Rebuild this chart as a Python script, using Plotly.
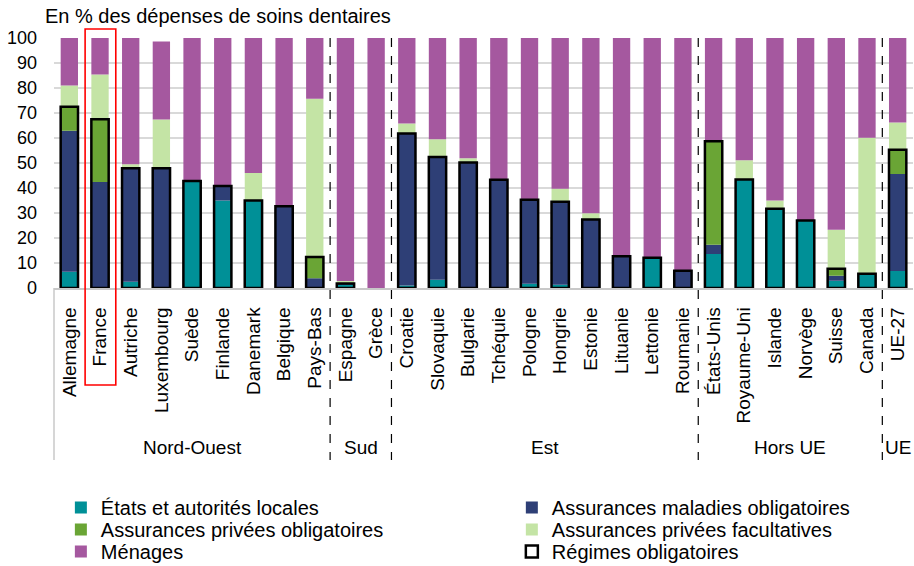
import plotly.graph_objects as go

# Pays et groupes
pays = [
    "Allemagne", "France", "Autriche", "Luxembourg", "Suède", "Finlande",
    "Danemark", "Belgique", "Pays-Bas",
    "Espagne", "Grèce",
    "Croatie", "Slovaquie", "Bulgarie", "Tchéquie", "Pologne", "Hongrie",
    "Estonie", "Lituanie", "Lettonie", "Roumanie",
    "États-Unis", "Royaume-Uni", "Islande", "Norvège", "Suisse", "Canada",
    "UE-27",
]
groupes = ["Nord-Ouest", "Sud", "Est", "Hors UE", "UE"]
taille_groupes = [9, 2, 10, 6, 1]

# Répartition des financements (en % des dépenses de soins dentaires)
etats = [6.5, 0, 2.5, 0, 42.8, 35.0, 35.0, 0, 0,
         1.2, 0,
         1.0, 3.3, 0, 0, 1.7, 1.3, 0, 0, 12.1, 0,
         13.6, 43.4, 31.7, 27.0, 2.9, 5.7,
         6.8]
maladie = [56.4, 42.4, 45.4, 47.9, 0, 5.8, 0, 32.7, 3.9,
           0.6, 0,
           60.8, 49.1, 50.2, 43.3, 33.6, 33.2, 27.4, 12.7, 0, 6.9,
           3.7, 0, 0, 0, 2.0, 0,
           38.8]
privees_oblig = [9.6, 25.1, 0, 0, 0, 0, 0, 0, 8.5,
                 0, 0,
                 0, 0, 0, 0, 0, 0, 0, 0, 0, 0,
                 41.4, 0, 0, 0, 2.8, 0,
                 9.7]
privees_fac = [8.5, 17.9, 1.6, 19.5, 0, 0, 11.0, 0, 63.3,
               1.0, 0,
               4.0, 7.1, 1.7, 0, 0, 5.2, 2.5, 0, 0, 0,
               0, 7.7, 3.3, 0, 15.6, 54.4,
               10.9]
menages = [19.0, 14.6, 50.5, 31.2, 57.2, 59.2, 54.0, 67.3, 24.3,
           97.2, 100.0,
           34.2, 40.5, 48.1, 56.7, 64.7, 60.3, 70.1, 87.3, 87.9, 93.1,
           41.3, 48.9, 65.0, 73.0, 76.7, 39.9,
           33.8]

series = [
    ("États et autorités locales", etats, "#009097"),
    ("Assurances maladies obligatoires", maladie, "#2E3F76"),
    ("Assurances privées obligatoires", privees_oblig, "#6AA535"),
    ("Assurances privées facultatives", privees_fac, "#C4E4A5"),
    ("Ménages", menages, "#A5589F"),
]

FONT = "Liberation Sans, Arial, sans-serif"
n = len(pays)
largeur = 0.565

# une légende par entrée : grille de 2 colonnes x 3 lignes sous le graphique
legendes = ["legend", "legend2", "legend3", "legend4", "legend5", "legend6"]
col_x = [0.008, 0.533]
ligne_y = [-0.8, -0.888, -0.976]

fig = go.Figure()
cumul = [0.0] * n
for k, (nom, vals, couleur) in enumerate(series):
    fig.add_trace(go.Bar(
        x=pays, y=vals, base=list(cumul), name=nom, width=largeur,
        marker=dict(color=couleur, line=dict(width=0)), legend=legendes[k],
    ))
    cumul = [c + v for c, v in zip(cumul, vals)]

# Contour des régimes obligatoires (États + assurances obligatoires)
regimes = [e + m + p for e, m, p in zip(etats, maladie, privees_oblig)]
fig.add_trace(go.Bar(
    x=pays, y=[r if r > 0 else None for r in regimes], base=0,
    name="Régimes obligatoires", width=largeur, legend=legendes[5],
    marker=dict(color="rgba(0,0,0,0)", line=dict(color="black", width=2.5)),
))

shapes = []
annotations = []
bas = -0.688
debut = 0
for g, t in zip(groupes, taille_groupes):
    annotations.append(dict(
        text=g, xref="x domain", x=(debut + t / 2) / n, yref="paper", y=-0.636,
        showarrow=False, font=dict(family=FONT, size=19, color="black"),
        xanchor="center", yanchor="middle",
    ))
    debut += t
    if debut < n:
        shapes.append(dict(
            type="line", xref="x domain", x0=debut / n, x1=debut / n,
            yref="paper", y0=1, y1=bas,
            line=dict(color="black", width=1.2, dash="dash"),
        ))

# cadre gauche de la zone des libellés
shapes.append(dict(type="line", xref="paper", x0=0, x1=0, yref="paper",
                   y0=0, y1=bas, line=dict(color="#c8c8c8", width=1.5)))

# encadré France
i_fr = pays.index("France")
shapes.append(dict(type="rect", xref="x domain", x0=(i_fr) / n + 0.0005,
                   x1=(i_fr + 1) / n + 0.0005, yref="paper", y0=-0.388, y1=1.036,
                   line=dict(color="red", width=1.6), fillcolor="rgba(0,0,0,0)"))

legende = dict(
    orientation="v", yanchor="top", xanchor="left",
    font=dict(family=FONT, size=20, color="black"),
    itemwidth=30, traceorder="normal", bgcolor="rgba(0,0,0,0)",
    tracegroupgap=0,
)
legend_layout = {}
for k, leg in enumerate(legendes):
    legend_layout[leg] = dict(legende, x=col_x[k % 2], y=ligne_y[k // 2])

fig.update_layout(
    width=914, height=566,
    margin=dict(l=54, r=1, t=38, b=278, autoexpand=False),
    barmode="overlay",
    plot_bgcolor="white", paper_bgcolor="white",
    font=dict(family=FONT, color="black"),
    title=dict(
        text="En % des dépenses de soins dentaires",
        xref="container", x=45 / 914, xanchor="left",
        yref="container", y=1 - 16 / 566, yanchor="middle",
        font=dict(family=FONT, size=20, color="black"),
    ),
    xaxis=dict(
        type="category", range=[-0.5, n - 0.5], tickangle=-90,
        tickfont=dict(family=FONT, size=19, color="black"),
        showline=True, linecolor="#c8c8c8", linewidth=1.5,
        showgrid=False, ticks="", automargin=False, ticklabelstandoff=10,
        fixedrange=True,
    ),
    yaxis=dict(
        range=[0, 100], dtick=10, tickfont=dict(family=FONT, size=18, color="black"),
        showgrid=True, gridcolor="#d9d9d9", gridwidth=1.5,
        zeroline=False, showline=False, ticks="", automargin=False,
        ticklabelstandoff=16, fixedrange=True,
    ),
    shapes=shapes,
    annotations=annotations,
    showlegend=True,
    **legend_layout,
)

fig.write_html("out.html")
